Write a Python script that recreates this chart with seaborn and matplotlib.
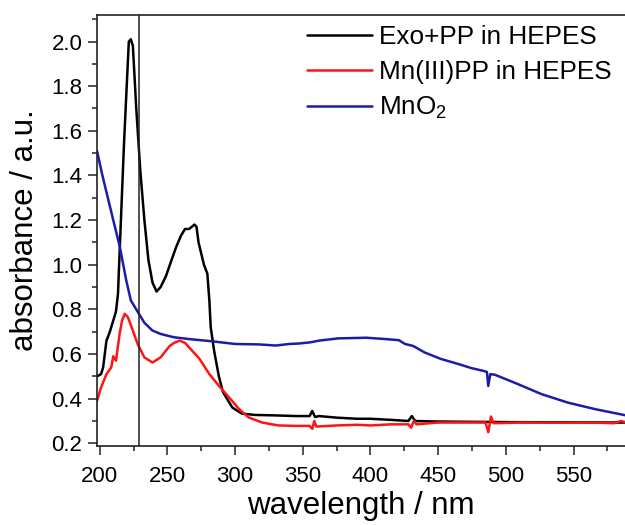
import numpy as np
import pandas as pd
import matplotlib
matplotlib.use('Agg')
import matplotlib.pyplot as plt
import seaborn as sns
from matplotlib.ticker import MultipleLocator

# Exo+PP in HEPES (black)
wl_exo = [198, 201, 202.5, 205, 207.5, 210, 212, 213.5, 215, 218, 221.5, 223, 224.5, 227, 230, 233,
          236, 239, 242, 245, 249, 253, 256.5, 260, 263, 266, 268, 270, 271.5, 273, 275, 277, 279.5,
          281, 282, 284.5, 288, 291, 294, 298, 305, 315, 330, 345, 355, 357, 359, 362, 375, 390, 400,
          415, 428, 430.5, 433, 445, 460, 480, 500, 540, 588]
abs_exo = [0.50, 0.51, 0.54, 0.66, 0.70, 0.75, 0.79, 0.87, 1.10, 1.55, 2.00, 2.01, 1.98, 1.70, 1.42, 1.20,
           1.02, 0.92, 0.88, 0.90, 0.95, 1.02, 1.08, 1.13, 1.16, 1.16, 1.17, 1.18, 1.17, 1.10, 1.05, 1.00, 0.96,
           0.84, 0.72, 0.615, 0.50, 0.43, 0.40, 0.36, 0.333, 0.327, 0.325, 0.322, 0.322, 0.345, 0.318, 0.322, 0.315, 0.31, 0.31,
           0.305, 0.30, 0.322, 0.30, 0.298, 0.297, 0.296, 0.295, 0.294, 0.293]

# Mn(III)PP in HEPES (red)
wl_mnpp = [198, 201, 205, 208.5, 210, 212, 214.7, 216.5, 218.5, 220.8, 224.5, 228, 233, 239, 245, 251.5,
           255, 259, 263, 266, 273.5, 281, 288, 295.6, 303, 310, 320, 332, 345, 355, 357, 358.5, 360, 375,
           390, 400, 415, 428, 430, 432, 434, 450, 470, 485, 487, 489, 491, 510, 540, 570, 580, 585, 588]
abs_mnpp = [0.39, 0.45, 0.51, 0.54, 0.59, 0.57, 0.69, 0.75, 0.78, 0.765, 0.705, 0.645, 0.585, 0.562, 0.585, 0.635,
            0.65, 0.66, 0.65, 0.63, 0.58, 0.51, 0.458, 0.405, 0.353, 0.316, 0.293, 0.28, 0.278, 0.278, 0.265, 0.30, 0.275, 0.28,
            0.283, 0.28, 0.285, 0.285, 0.27, 0.30, 0.285, 0.293, 0.293, 0.293, 0.25, 0.32, 0.29, 0.293, 0.292, 0.292, 0.29, 0.30, 0.295]

# MnO2 (blue)
wl_mno2 = [198, 202, 206, 210, 214.7, 219.6, 223, 228, 233, 239, 245, 251.5, 255, 266, 283, 300, 318, 330,
           340, 347, 355, 358, 362, 376, 397, 411, 421, 425.5, 431.6, 440, 452, 465, 474.5, 483, 486, 487,
           488.5, 492, 509, 526.5, 546, 566, 588]
abs_mno2 = [1.51, 1.40, 1.30, 1.20, 1.085, 0.93, 0.84, 0.79, 0.74, 0.705, 0.69, 0.68, 0.675, 0.667, 0.657, 0.645, 0.643, 0.638,
            0.645, 0.647, 0.652, 0.655, 0.66, 0.67, 0.673, 0.667, 0.662, 0.645, 0.636, 0.607, 0.578, 0.555, 0.537, 0.525, 0.52, 0.457,
            0.51, 0.507, 0.465, 0.42, 0.382, 0.353, 0.326]

labels = ['Exo+PP in HEPES', 'Mn(III)PP in HEPES', 'MnO$_2$']
colors = ['#000000', '#ff1414', '#1c1ca8']
marker_wl = 229

df = pd.concat([
    pd.DataFrame({'wavelength': wl_exo, 'absorbance': abs_exo, 'sample': labels[0]}),
    pd.DataFrame({'wavelength': wl_mnpp, 'absorbance': abs_mnpp, 'sample': labels[1]}),
    pd.DataFrame({'wavelength': wl_mno2, 'absorbance': abs_mno2, 'sample': labels[2]}),
], ignore_index=True)

sns.set_style('ticks')
plt.rcParams['font.family'] = ['Liberation Sans', 'DejaVu Sans']
plt.rcParams['mathtext.default'] = 'regular'
plt.rcParams['text.color'] = 'black'
plt.rcParams['axes.labelcolor'] = 'black'
plt.rcParams['xtick.color'] = 'black'
plt.rcParams['ytick.color'] = 'black'

fig = plt.figure(figsize=(6.25, 5.25), dpi=100)
ax = fig.add_axes([0.1552, 0.1505, 0.8448, 0.821])

sns.lineplot(data=df, x='wavelength', y='absorbance', hue='sample', hue_order=labels,
             palette=dict(zip(labels, colors)), estimator=None, linewidth=1.8, ax=ax)
ax.axvline(marker_wl, color='#222222', linewidth=1.1)

ax.set_xlim(198, 588)
ax.set_ylim(0.188, 2.119)
ax.xaxis.set_major_locator(MultipleLocator(50))
ax.xaxis.set_minor_locator(MultipleLocator(25))
ax.yaxis.set_major_locator(MultipleLocator(0.2))
ax.yaxis.set_minor_locator(MultipleLocator(0.1))
ax.yaxis.set_major_formatter(matplotlib.ticker.FormatStrFormatter('%.1f'))

ax.tick_params(which='major', direction='out', length=6.5, width=1.1, labelsize=16, pad=4, color='#222222')
ax.tick_params(axis='x', which='major', pad=8)
ax.tick_params(which='minor', direction='out', length=3.5, width=1.1, color='#222222')
for s in ['left', 'bottom', 'top']:
    ax.spines[s].set_linewidth(1.2)
    ax.spines[s].set_color('#222222')
ax.spines['right'].set_visible(False)

ax.set_xlabel('wavelength / nm', fontsize=22.5, labelpad=3)
ax.set_ylabel('absorbance / a.u.', fontsize=22.5, labelpad=8)

leg = ax.legend(loc='upper left', bbox_to_anchor=(0.491, 0.952), bbox_transform=fig.transFigure,
                frameon=False, fontsize=18.8, handlelength=2.5, handletextpad=0.25,
                labelspacing=0.42, borderpad=0, borderaxespad=0)
for line in leg.get_lines():
    line.set_linewidth(1.8)

fig.savefig('out.png', dpi=100)
